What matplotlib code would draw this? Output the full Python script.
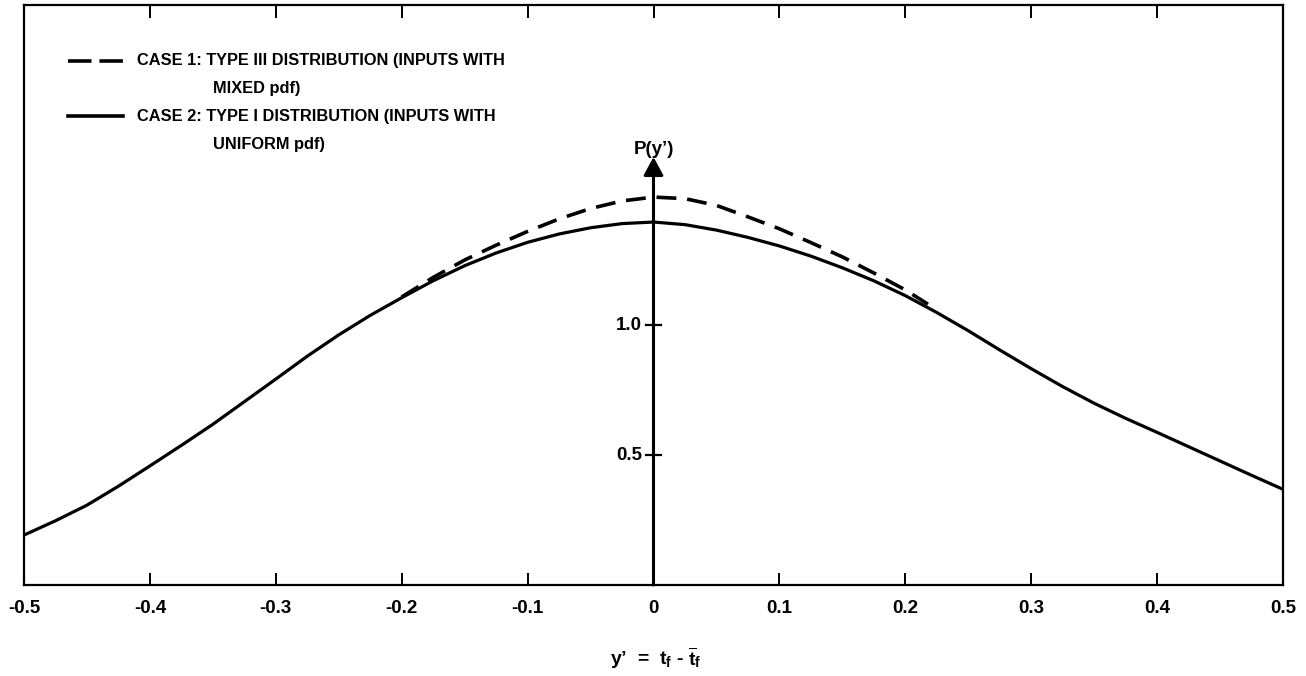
import matplotlib
matplotlib.use('Agg')
import matplotlib.pyplot as plt
from matplotlib.lines import Line2D

# ---------------- data ----------------
x_solid = [-0.5, -0.475, -0.45, -0.425, -0.4, -0.375, -0.35, -0.325, -0.3,
           -0.275, -0.25, -0.225, -0.2, -0.175, -0.15, -0.125,
           -0.1, -0.075, -0.05, -0.025, 0.0, 0.025, 0.05, 0.075, 0.1, 0.125,
           0.15, 0.175, 0.2, 0.225, 0.25, 0.275, 0.3, 0.325, 0.35, 0.375,
           0.4, 0.425, 0.45, 0.475, 0.5]
y_solid = [0.192, 0.247, 0.307, 0.38, 0.458, 0.537, 0.618, 0.705, 0.792,
           0.88, 0.962, 1.037, 1.105, 1.17, 1.228, 1.277,
           1.318, 1.35, 1.374, 1.39, 1.396, 1.386, 1.365, 1.337, 1.304, 1.265,
           1.22, 1.17, 1.113, 1.048, 0.978, 0.904, 0.832, 0.763, 0.699, 0.641,
           0.587, 0.532, 0.477, 0.422, 0.368]

x_dash = [-0.2, -0.175, -0.15, -0.125, -0.1, -0.075, -0.05, -0.025, 0.0,
          0.025, 0.05, 0.075, 0.1, 0.125, 0.15, 0.175, 0.2, 0.218]
y_dash = [1.108, 1.183, 1.25, 1.307, 1.36, 1.408, 1.448, 1.477, 1.492,
          1.486, 1.46, 1.416, 1.37, 1.317, 1.262, 1.20, 1.135, 1.08]

xticks = [-0.5, -0.4, -0.3, -0.2, -0.1, 0.0, 0.1, 0.2, 0.3, 0.4, 0.5]
xtick_labels = ['-0.5', '-0.4', '-0.3', '-0.2', '-0.1', '0', '0.1', '0.2', '0.3', '0.4', '0.5']
yticks = [0.5, 1.0]
ytick_labels = ['0.5', '1.0']

legend_lines = [
    ("CASE 1: TYPE III DISTRIBUTION (INPUTS WITH", "MIXED pdf)"),
    ("CASE 2: TYPE I DISTRIBUTION (INPUTS WITH", "UNIFORM pdf)"),
]
y_axis_label = "P(y\u2019)"
x_axis_label = "y\u2019  =  $t_f$ - $\\overline{t}_f$"

# ---------------- style ----------------
plt.rcParams['font.family'] = ['Liberation Sans', 'DejaVu Sans']
plt.rcParams['font.weight'] = 'bold'
plt.rcParams['mathtext.fontset'] = 'custom'
plt.rcParams['mathtext.rm'] = 'Liberation Sans:bold'
plt.rcParams['mathtext.it'] = 'Liberation Sans:bold'
plt.rcParams['mathtext.bf'] = 'Liberation Sans:bold'

W, H = 1306, 676
fig = plt.figure(figsize=(W / 100, H / 100), dpi=100)
ax = fig.add_axes([24 / W, 91 / H, 1259 / W, 580 / H])
ax.set_xlim(-0.5, 0.5)
ax.set_ylim(0, 580 / 260)

for s in ax.spines.values():
    s.set_linewidth(1.6)
    s.set_color('black')

ax.set_xticks(xticks)
ax.set_xticklabels(xtick_labels, fontsize=13.5, fontweight='bold')
ax.tick_params(axis='x', direction='in', length=9, width=1.4, top=True,
               bottom=True, pad=11)
ax.set_yticks([])

# curves
ax.plot(x_solid, y_solid, color='black', lw=2.3, solid_capstyle='round',
        solid_joinstyle='round', zorder=3)
ax.plot(x_dash, y_dash, color='black', lw=2.6, dashes=(5.5, 3.0), zorder=3)

# central y axis with arrow
ax.annotate('', xy=(0, 1.646), xytext=(0, 0),
            arrowprops=dict(arrowstyle='-|>,head_length=0.55,head_width=0.3',
                            lw=2.2, color='black', shrinkA=0, shrinkB=0,
                            mutation_scale=20), zorder=4)
for yv, lab in zip(yticks, ytick_labels):
    ax.plot([-0.006, 0.006], [yv, yv], color='black', lw=1.6, zorder=4)
    ax.text(-0.009, yv, lab, ha='right', va='center', fontsize=13.5,
            fontweight='bold')
ax.text(0, 1.675, y_axis_label, ha='center', va='center', fontsize=13.5,
        fontweight='bold')

# x axis label
fig.text(656 / W, 1 - 658 / H, x_axis_label, ha='center', va='center',
         fontsize=14, fontweight='bold')

# legend (manual)
def fx(px):
    return px / W

def fy(py):
    return 1 - py / H

leg_rows = [(61, 89), (116, 144)]
styles = [dict(dashes=(6.5, 2.2)), dict()]
for (l1, l2), (r1, r2), st in zip(legend_lines, leg_rows, styles):
    fig.add_artist(Line2D([fx(68), fx(123)], [fy(r1), fy(r1)], color='black',
                          lw=2.6, transform=fig.transFigure, **st))
    fig.text(fx(137), fy(r1), l1, ha='left', va='center', fontsize=11.8,
             fontweight='bold')
    fig.text(fx(213), fy(r2), l2, ha='left', va='center', fontsize=11.8,
             fontweight='bold')

fig.savefig('out.png', dpi=100)
